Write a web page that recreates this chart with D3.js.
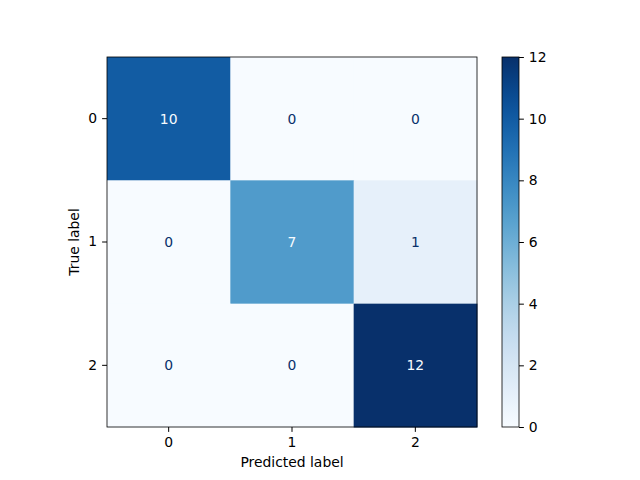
<!DOCTYPE html>
<html><head><meta charset="utf-8">
<script src="https://cdn.jsdelivr.net/npm/d3@7"></script>
<style>body{margin:0;background:#fff}text{font-family:"DejaVu Sans",sans-serif}</style>
</head><body>
<svg id="c" width="640" height="480"></svg>
<script>
const labels = ["0","1","2"];
const matrix = [[10,0,0],[0,7,1],[0,0,12]];
const cbTicks = [0,2,4,6,8,10,12];

const svg = d3.select("#c");
const L=107,T=57,S=370;
const x = d3.scaleBand().domain(labels).range([L,L+S]);
const y = d3.scaleBand().domain(labels).range([T,T+S]);
const col = d3.scaleSequential(d3.interpolateBlues).domain([0,12]);
const cells=[];
matrix.forEach((r,i)=>r.forEach((v,j)=>cells.push({i,j,v})));
svg.selectAll("rect.cell").data(cells).join("rect")
  .attr("x",d=>x(labels[d.j])).attr("y",d=>y(labels[d.i]))
  .attr("width",x.bandwidth()+0.5).attr("height",y.bandwidth()+0.5)
  .attr("fill",d=>col(d.v));
svg.selectAll("text.val").data(cells).join("text")
  .attr("x",d=>x(labels[d.j])+x.bandwidth()/2).attr("y",d=>y(labels[d.i])+y.bandwidth()/2)
  .attr("text-anchor","middle").attr("dominant-baseline","central").attr("font-size",13.9)
  .attr("fill",d=>d.v>6?"#f7fbff":"#08306b").text(d=>d.v);
svg.append("rect").attr("x",L).attr("y",T).attr("width",S).attr("height",S)
  .attr("fill","none").attr("stroke","#000").attr("stroke-width",0.8);
const gx=svg.append("g").attr("transform",`translate(0,${T+S})`).call(d3.axisBottom(x).tickSize(4.9).tickPadding(4.9));
const gy=svg.append("g").attr("transform",`translate(${L},0)`).call(d3.axisLeft(y).tickSize(4.9).tickPadding(4.9));
[gx,gy].forEach(g=>{g.select(".domain").remove();g.selectAll("text").attr("font-size",13.9).attr("font-family","DejaVu Sans");});
svg.append("text").attr("x",L+S/2).attr("y",467).attr("text-anchor","middle").attr("font-size",13.9).text("Predicted label");
svg.append("text").attr("transform",`translate(79,${T+S/2}) rotate(-90)`).attr("text-anchor","middle").attr("font-size",13.9).text("True label");
// colorbar
const cx=502,cw=17;
const cy=d3.scaleLinear().domain([0,12]).range([T+S,T]);
const defs=svg.append("defs");
const grad=defs.append("linearGradient").attr("id","g").attr("x1",0).attr("y1",1).attr("x2",0).attr("y2",0);
d3.range(0,1.001,0.05).forEach(t=>grad.append("stop").attr("offset",t).attr("stop-color",col(t*12)));
svg.append("rect").attr("x",cx).attr("y",T).attr("width",cw).attr("height",S).attr("fill","url(#g)").attr("stroke","#000").attr("stroke-width",0.8);
const gc=svg.append("g").attr("transform",`translate(${cx+cw},0)`).call(d3.axisRight(cy).tickValues(cbTicks).tickSize(4.9).tickPadding(4.9));
gc.select(".domain").remove();gc.selectAll("text").attr("font-size",13.9).attr("font-family","DejaVu Sans");
</script></body></html>
